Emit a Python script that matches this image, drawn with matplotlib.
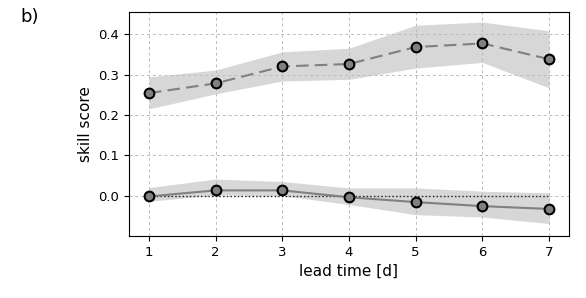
import numpy as np
import matplotlib.pyplot as plt

lead = [1, 2, 3, 4, 5, 6, 7]

# upper skill score (dashed) with spread
upper_mean = [0.254, 0.278, 0.320, 0.326, 0.368, 0.377, 0.338]
upper_hi = [0.294, 0.311, 0.356, 0.365, 0.422, 0.430, 0.408]
upper_lo = [0.215, 0.252, 0.284, 0.288, 0.316, 0.330, 0.267]

# lower skill score (solid) with spread
lower_mean = [-0.002, 0.013, 0.013, -0.004, -0.016, -0.026, -0.033]
lower_hi = [0.020, 0.041, 0.035, 0.019, 0.019, 0.011, 0.007]
lower_lo = [-0.014, 0.002, 0.000, -0.022, -0.047, -0.053, -0.069]

zero_line = [0, 0, 0, 0, 0, 0, 0]

fig = plt.figure(figsize=(5.86, 2.98), dpi=100)
ax = fig.add_axes([0.22, 0.208, 0.751, 0.752])

ax.fill_between(lead, upper_lo, upper_hi, color='lightgray', alpha=0.9, lw=0)
ax.fill_between(lead, lower_lo, lower_hi, color='lightgray', alpha=0.9, lw=0)
ax.plot(lead, zero_line, ':', color='#222222', lw=1.0)
ax.plot(lead, upper_mean, color='gray', lw=1.5, dashes=(6, 3), marker='o',
        ms=7, mfc='gray', mec='k', mew=1.5)
ax.plot(lead, lower_mean, '-', color='gray', lw=1.5, marker='o', ms=7,
        mfc='gray', mec='k', mew=1.5)

ax.set_xlim(0.7, 7.3)
ax.set_ylim(-0.1, 0.455)
ax.set_xticks(lead)
ax.set_yticks([0.0, 0.1, 0.2, 0.3, 0.4])
ax.grid(True, color='#bbbbbb', lw=0.7, dashes=(3, 3))
ax.tick_params(labelsize=9.5)
ax.set_xlabel('lead time [d]', fontsize=11)
ax.set_ylabel('skill score', fontsize=11)

fig.text(0.035, 0.925, 'b)', fontsize=13)

fig.savefig('out.png', dpi=100)
